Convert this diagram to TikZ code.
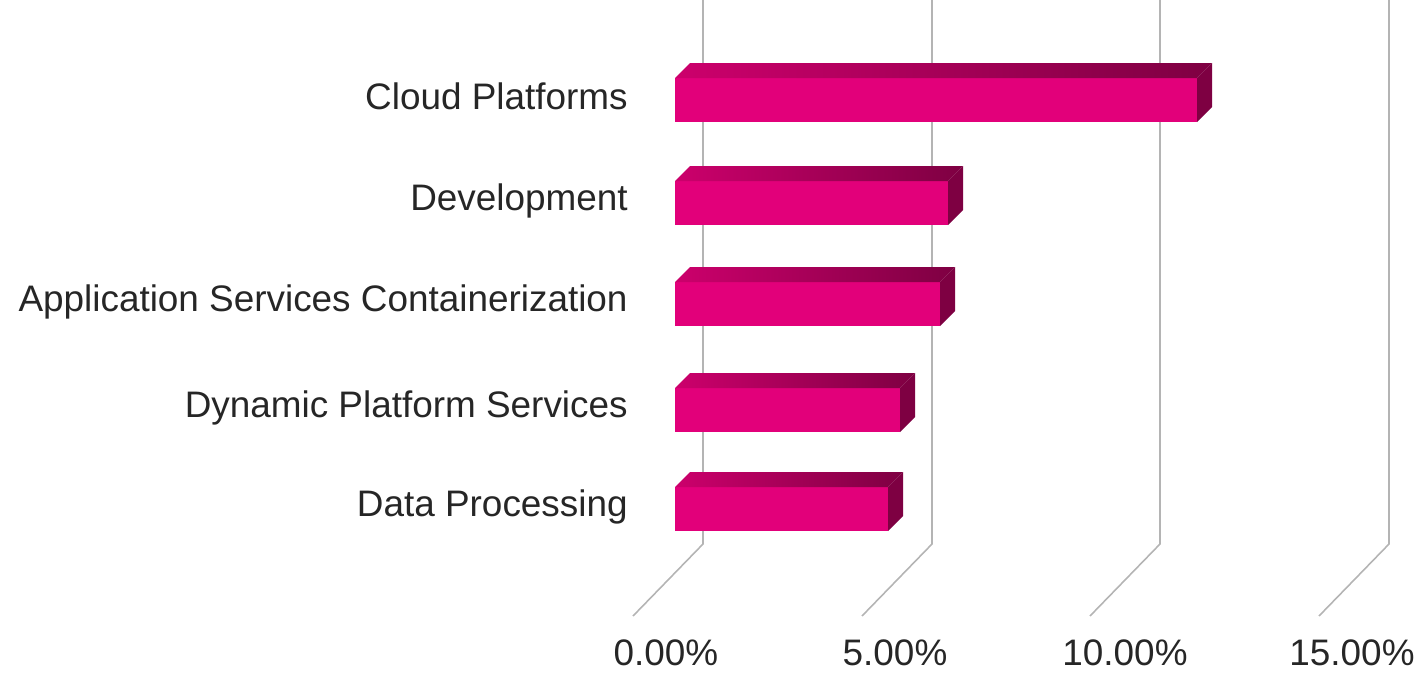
\documentclass[tikz,border=0pt]{standalone}
\usepackage{fontspec}
\setmainfont{Liberation Sans}
\definecolor{magenta}{HTML}{E2007A}
\definecolor{magdark}{HTML}{7E0042}
\definecolor{magmid}{HTML}{CC006C}
\definecolor{gridgray}{HTML}{B4B4B4}
\tikzset{
  gridline/.style={draw=gridgray,line width=0.9pt},
  barfront/.style={fill=magenta},
  barside/.style={fill=magdark},
  cat/.style={anchor=base east,inner sep=0pt,font=\fontsize{21}{25}\selectfont,text=black!85},
  tick/.style={anchor=base,inner sep=0pt,font=\fontsize{21}{25}\selectfont,text=black!85}
}
\begin{document}
\begin{tikzpicture}[x=0.02cm,y=-0.02cm]
	\useasboundingbox (0,0) rectangle (1420,673);
	% back wall and floor
	\foreach \gx in {703,932,1160,1389}{
		\draw[gridline] (\gx,0) -- (\gx,544) -- (\gx-70,616);
	}
	% bars: top of front face / right end of front face
	\foreach \by/\bx in {78/1197,181/948,282/940,388/900,487/888}{
		\fill[barfront] (675,\by) rectangle (\bx,\by+44);
		\shade[left color=magmid,right color=magdark] (675,\by) -- (690,\by-15) -- (\bx+15,\by-15) -- (\bx,\by) -- cycle;
		\fill[barside] (\bx,\by) -- (\bx+15,\by-15) -- (\bx+15,\by+29) -- (\bx,\by+44) -- cycle;
	}
	\node[cat] (cloud) at (628,109) {Cloud Platforms};
	\node[cat] (dev) at (628,210) {Development};
	\node[cat] (appsvc) at (628,311) {Application Services Containerization};
	\node[cat] (dyn) at (628,417) {Dynamic Platform Services};
	\node[cat] (data) at (628,516) {Data Processing};
	\node[tick] (t0) at (666,665) {0.00\%};
	\node[tick] (t5) at (895,665) {5.00\%};
	\node[tick] (t10) at (1125,665) {10.00\%};
	\node[tick] (t15) at (1352,665) {15.00\%};
\end{tikzpicture}
\end{document}
